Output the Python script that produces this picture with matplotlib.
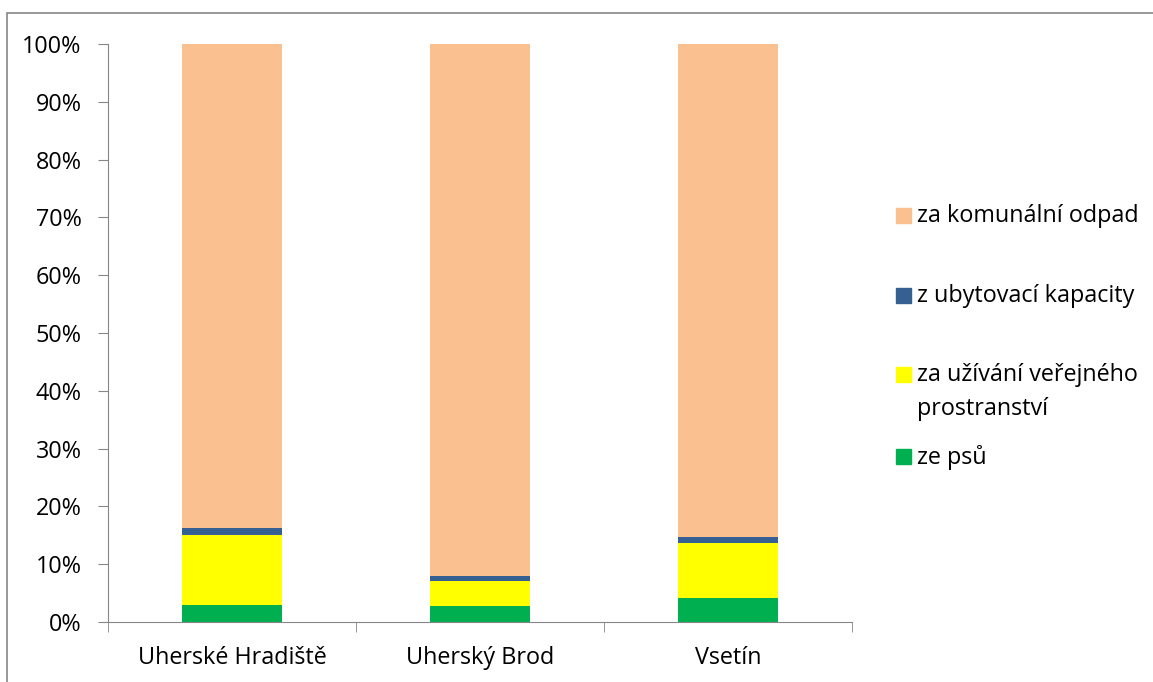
import numpy as np
import matplotlib.pyplot as plt
from matplotlib.patches import Rectangle
from matplotlib.ticker import PercentFormatter

plt.rcParams['font.family'] = ['Open Sans', 'DejaVu Sans']

towns = ["Uherské Hradiště", "Uherský Brod", "Vsetín"]
dogs = [2.9, 2.8, 4.1]            # ze psů
public_space = [12.2, 4.3, 9.6]   # za užívání veřejného prostranství
lodging = [1.2, 0.9, 0.95]        # z ubytovací kapacity
waste = [83.7, 92.0, 85.35]       # za komunální odpad

series = [
    ("ze psů", dogs, "#00B050"),
    ("za užívání veřejného\nprostranství", public_space, "#FFFF00"),
    ("z ubytovací kapacity", lodging, "#376092"),
    ("za komunální odpad", waste, "#FAC090"),
]

W, H = 1153, 682
FS = 16.8
fig = plt.figure(figsize=(W / 100, H / 100), dpi=100)
ax = fig.add_axes([108 / W, 1 - 622 / H, (852 - 108) / W, (622 - 44) / H])

x = np.arange(len(towns))
bottom = np.zeros(len(towns))
for label, vals, color in series:
    vals = np.array(vals)
    ax.bar(x, vals, 0.4, bottom=bottom, color=color, linewidth=0)
    bottom += vals

ax.set_xlim(-0.5, 2.5)
ax.set_ylim(0, 100)
ax.set_yticks(np.arange(0, 101, 10))
ax.yaxis.set_major_formatter(PercentFormatter(decimals=0))
ax.set_xticks(x)
ax.set_xticklabels(towns)
ax.set_xticks([-0.5, 0.5, 1.5, 2.5], minor=True)
ax.tick_params(axis="x", which="major", length=0, pad=17, labelsize=FS)
ax.tick_params(axis="x", which="minor", length=7, color="#868686")
ax.tick_params(axis="y", length=7, color="#868686", labelsize=FS, pad=12)

for side in ("top", "right"):
    ax.spines[side].set_visible(False)
for side in ("left", "bottom"):
    ax.spines[side].set_color("#868686")

# legend drawn by hand, top entry first
entries = [
    ("za komunální odpad", "#FAC090", 216),
    ("z ubytovací kapacity", "#376092", 296),
    ("za užívání veřejného\nprostranství", "#FFFF00", 375),
    ("ze psů", "#00B050", 457),
]
for text, color, ypix in entries:
    fig.patches.append(Rectangle((896 / W, 1 - (ypix + 7) / H), 15 / W, 15 / H,
                                 transform=fig.transFigure, color=color))
    if "\n" in text:
        first, second = text.split("\n")
        fig.text(917 / W, 1 - ypix / H, first, fontsize=FS, va="center")
        fig.text(917 / W, 1 - (ypix + 34) / H, second, fontsize=FS, va="center")
    else:
        fig.text(917 / W, 1 - ypix / H, text, fontsize=FS, va="center")

# outer chart border
fig.patches.append(Rectangle((7 / W, -0.05), 1.1, 1 - 13 / H + 0.05,
                             transform=fig.transFigure, fill=False,
                             edgecolor="#868686", linewidth=1.2))

fig.savefig("out.png", dpi=100)
